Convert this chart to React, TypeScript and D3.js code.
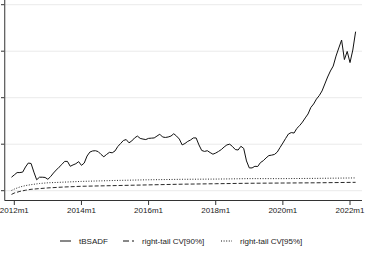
import React from 'react'
import * as d3 from 'd3'

// months counted from 2012m1 (index 0 = 2011m12)
const firstMonth = -1

const tbsadf = [
  0.58, 0.68, 0.78, 0.78, 0.80, 1.02, 1.19, 1.17, 0.80, 0.47, 0.58, 0.58, 0.57,
  0.49, 0.61, 0.76, 0.89, 1.01, 1.13, 1.26, 1.26, 1.05, 1.11, 1.16, 1.25,
  1.09, 1.19, 1.49, 1.66, 1.71, 1.72, 1.68, 1.56, 1.46, 1.56, 1.65, 1.63,
  1.71, 1.90, 2.03, 2.16, 2.20, 2.06, 2.14, 2.27, 2.35, 2.25, 2.22, 2.20,
  2.25, 2.26, 2.27, 2.35, 2.43, 2.31, 2.29, 2.31, 2.35, 2.45, 2.35, 2.22,
  1.97, 2.03, 2.12, 2.18, 2.27, 2.27, 1.97, 1.73, 1.69, 1.72, 1.64, 1.57,
  1.62, 1.69, 1.77, 1.88, 1.97, 2.00, 1.90, 1.77, 1.75, 1.91, 1.82, 1.28,
  0.98, 0.98, 1.05, 1.04, 1.21, 1.29, 1.41, 1.51, 1.53, 1.56, 1.66, 1.86,
  2.05, 2.25, 2.44, 2.50, 2.48, 2.68, 2.80, 2.95, 3.13, 3.30, 3.58, 3.73,
  3.94, 4.09, 4.29, 4.59, 4.89, 5.15, 5.36, 5.79, 6.14, 6.48, 5.64, 5.99,
  5.51, 6.05, 6.84,
]

const cvMonths = [-1, 0, 2, 4, 6, 9, 12, 18, 24, 36, 48, 60, 72, 84, 96, 108, 122]
const cv90 = [-0.16, -0.10, -0.03, 0.02, 0.06, 0.09, 0.12, 0.16, 0.19, 0.22, 0.25, 0.28, 0.30, 0.32, 0.33, 0.34, 0.36]
const cv95 = [0.01, 0.07, 0.16, 0.22, 0.26, 0.31, 0.34, 0.37, 0.40, 0.44, 0.47, 0.49, 0.50, 0.52, 0.52, 0.53, 0.55]

const xTickMonths = [0, 24, 48, 72, 96, 120]
const xTickLabels = ['2012m1', '2014m1', '2016m1', '2018m1', '2020m1', '2022m1']
const yTicks = [0, 2, 4, 6, 8]

const legendItems = [
  {label: 'tBSADF', dash: 'none', x: 60},
  {label: 'right-tail CV[90%]', dash: '6,3,2,0', x: 123},
  {label: 'right-tail CV[95%]', dash: '1,1.6', x: 221},
]

const font = 'Liberation Sans, Arial, Helvetica, sans-serif'

export default function App() {
  const x = d3.scaleLinear().domain([0, 120]).range([14.3, 350])
  const y = d3.scaleLinear().domain([0, 8]).range([190.7, 4.7])
  const left = 4.7
  const right = 362
  const axisY = 200.5

  const line = d3.line<[number, number]>()
    .x(d => x(d[0]))
    .y(d => y(d[1]))

  const mainPts: [number, number][] = tbsadf.map((v, i) => [firstMonth + i, v])
  const cv90Pts: [number, number][] = cv90.map((v, i) => [cvMonths[i], v])
  const cv95Pts: [number, number][] = cv95.map((v, i) => [cvMonths[i], v])

  return (
    <svg width={377} height={257} style={{position: 'absolute', left: 0, top: 0, background: '#fff'}}
      fontFamily={font}>
      {yTicks.map(t => (
        <g key={t}>
          <line x1={left} x2={right} y1={y(t)} y2={y(t)} stroke="#eaeaea" strokeWidth={1} />
          <line x1={1} x2={left} y1={y(t)} y2={y(t)} stroke="#333" strokeWidth={1} />
        </g>
      ))}
      <line x1={left} x2={left} y1={0} y2={axisY} stroke="#555" strokeWidth={1.2} />
      <line x1={left} x2={right} y1={axisY} y2={axisY} stroke="#333" strokeWidth={1} />
      {xTickMonths.map((m, i) => (
        <g key={m}>
          <line x1={x(m)} x2={x(m)} y1={axisY} y2={axisY + 4.5} stroke="#333" strokeWidth={1} />
          <text x={x(m)} y={213} fontSize={8} textAnchor="middle" fill="#222">{xTickLabels[i]}</text>
        </g>
      ))}
      <path d={line(cv95Pts) || ''} fill="none" stroke="#111" strokeWidth={0.9} strokeDasharray="1,1.6" />
      <path d={line(cv90Pts) || ''} fill="none" stroke="#111" strokeWidth={0.9} strokeDasharray="4,2" />
      <path d={line(mainPts) || ''} fill="none" stroke="#111" strokeWidth={1} strokeLinejoin="round" />
      {legendItems.map(it => (
        <g key={it.label}>
          <line x1={it.x} x2={it.x + 11} y1={241} y2={241} stroke="#111" strokeWidth={1} strokeDasharray={it.dash} />
          <text x={it.x + 19} y={244} fontSize={8} fill="#222">{it.label}</text>
        </g>
      ))}
    </svg>
  )
}
